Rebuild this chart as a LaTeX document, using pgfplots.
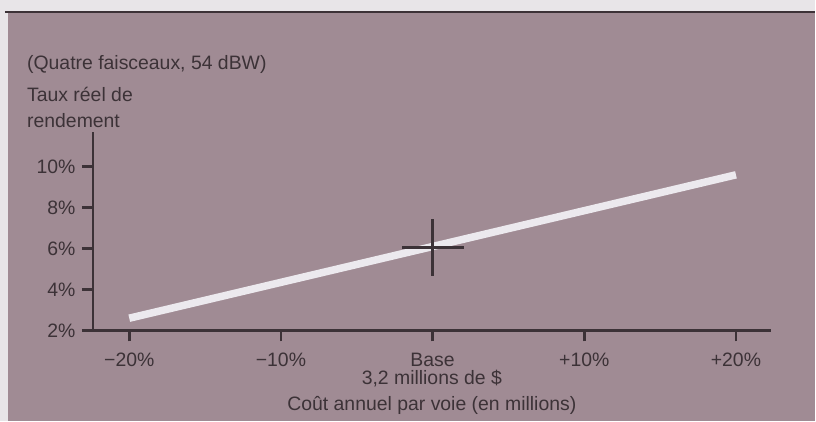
\documentclass[border=0pt]{standalone}
\usepackage{pgfplots}
\pgfplotsset{compat=1.18}
\usetikzlibrary{backgrounds}
\usepackage{fontspec}
\setmainfont{Liberation Sans}
\definecolor{mauve}{RGB}{160,139,148}
\definecolor{paper}{RGB}{232,229,232}
\definecolor{ink}{RGB}{60,50,55}
\definecolor{lineW}{RGB}{236,233,238}
\begin{document}
\begin{tikzpicture}[x=1bp,y=1bp]
\begin{axis}[
  anchor=south west,
  scale only axis, width=679bp, height=199bp,
  xmin=-22.4, xmax=22.3, ymin=2, ymax=11.7,
  axis x line*=bottom, axis y line*=left,
  axis line style={line width=2.5bp, draw=ink, -},
  xtick={-20,-10,0,10,20},
  xticklabels={−20\%,−10\%,Base,+10\%,+20\%},
  ytick={2,4,6,8,10},
  yticklabels={2\%,4\%,6\%,8\%,10\%},
  tick align=outside, major tick length=11bp,
  tick style={line width=2.5bp, draw=ink},
  ticklabel style={font=\fontsize{19.5}{22}\selectfont, text=ink},
  xticklabel style={yshift=-8bp},
  yticklabel style={xshift=-3bp},
  xlabel={3,2 millions de \$\\Coût annuel par voie (en millions)},
  xlabel style={font=\fontsize{19.5}{26}\selectfont, text=ink, align=center,
    at={(axis description cs:0.5,0)}, anchor=north, yshift=-36bp},
  ylabel={Taux réel de\\rendement},
  ylabel style={rotate=-90, font=\fontsize{19.5}{26}\selectfont, text=ink, align=left,
    inner sep=0pt, at={(axis description cs:-0.0972,1.226)}, anchor=north west},
  title={(Quatre faisceaux, 54 dBW)},
  title style={font=\fontsize{19.5}{22}\selectfont, text=ink, inner sep=0pt,
    at={(axis description cs:-0.0972,1.307)}, anchor=west},
  clip=false,
]
\addplot[lineW, line width=7.5bp] coordinates {(-20,2.6) (0,6.1) (20,9.6)};
\addplot[ink, line width=2.5bp, draw=none, mark=none,
  error bars/.cd, x dir=both, x explicit, y dir=both, y explicit,
  error mark=none, error bar style={line width=2.5bp, draw=ink}]
  coordinates {(0,6.05) +- (2.05,1.4)};
\end{axis}
\begin{pgfonlayer}{background}
\begin{scope}[shift={(-93,-91)}]
\fill[paper] (0,0) rectangle (816,422);
\fill[mauve] (8,0) rectangle (816,410);
\draw[ink, line width=2.5bp] (5,410) -- (816,410);
\end{scope}
\end{pgfonlayer}
\end{tikzpicture}
\end{document}
